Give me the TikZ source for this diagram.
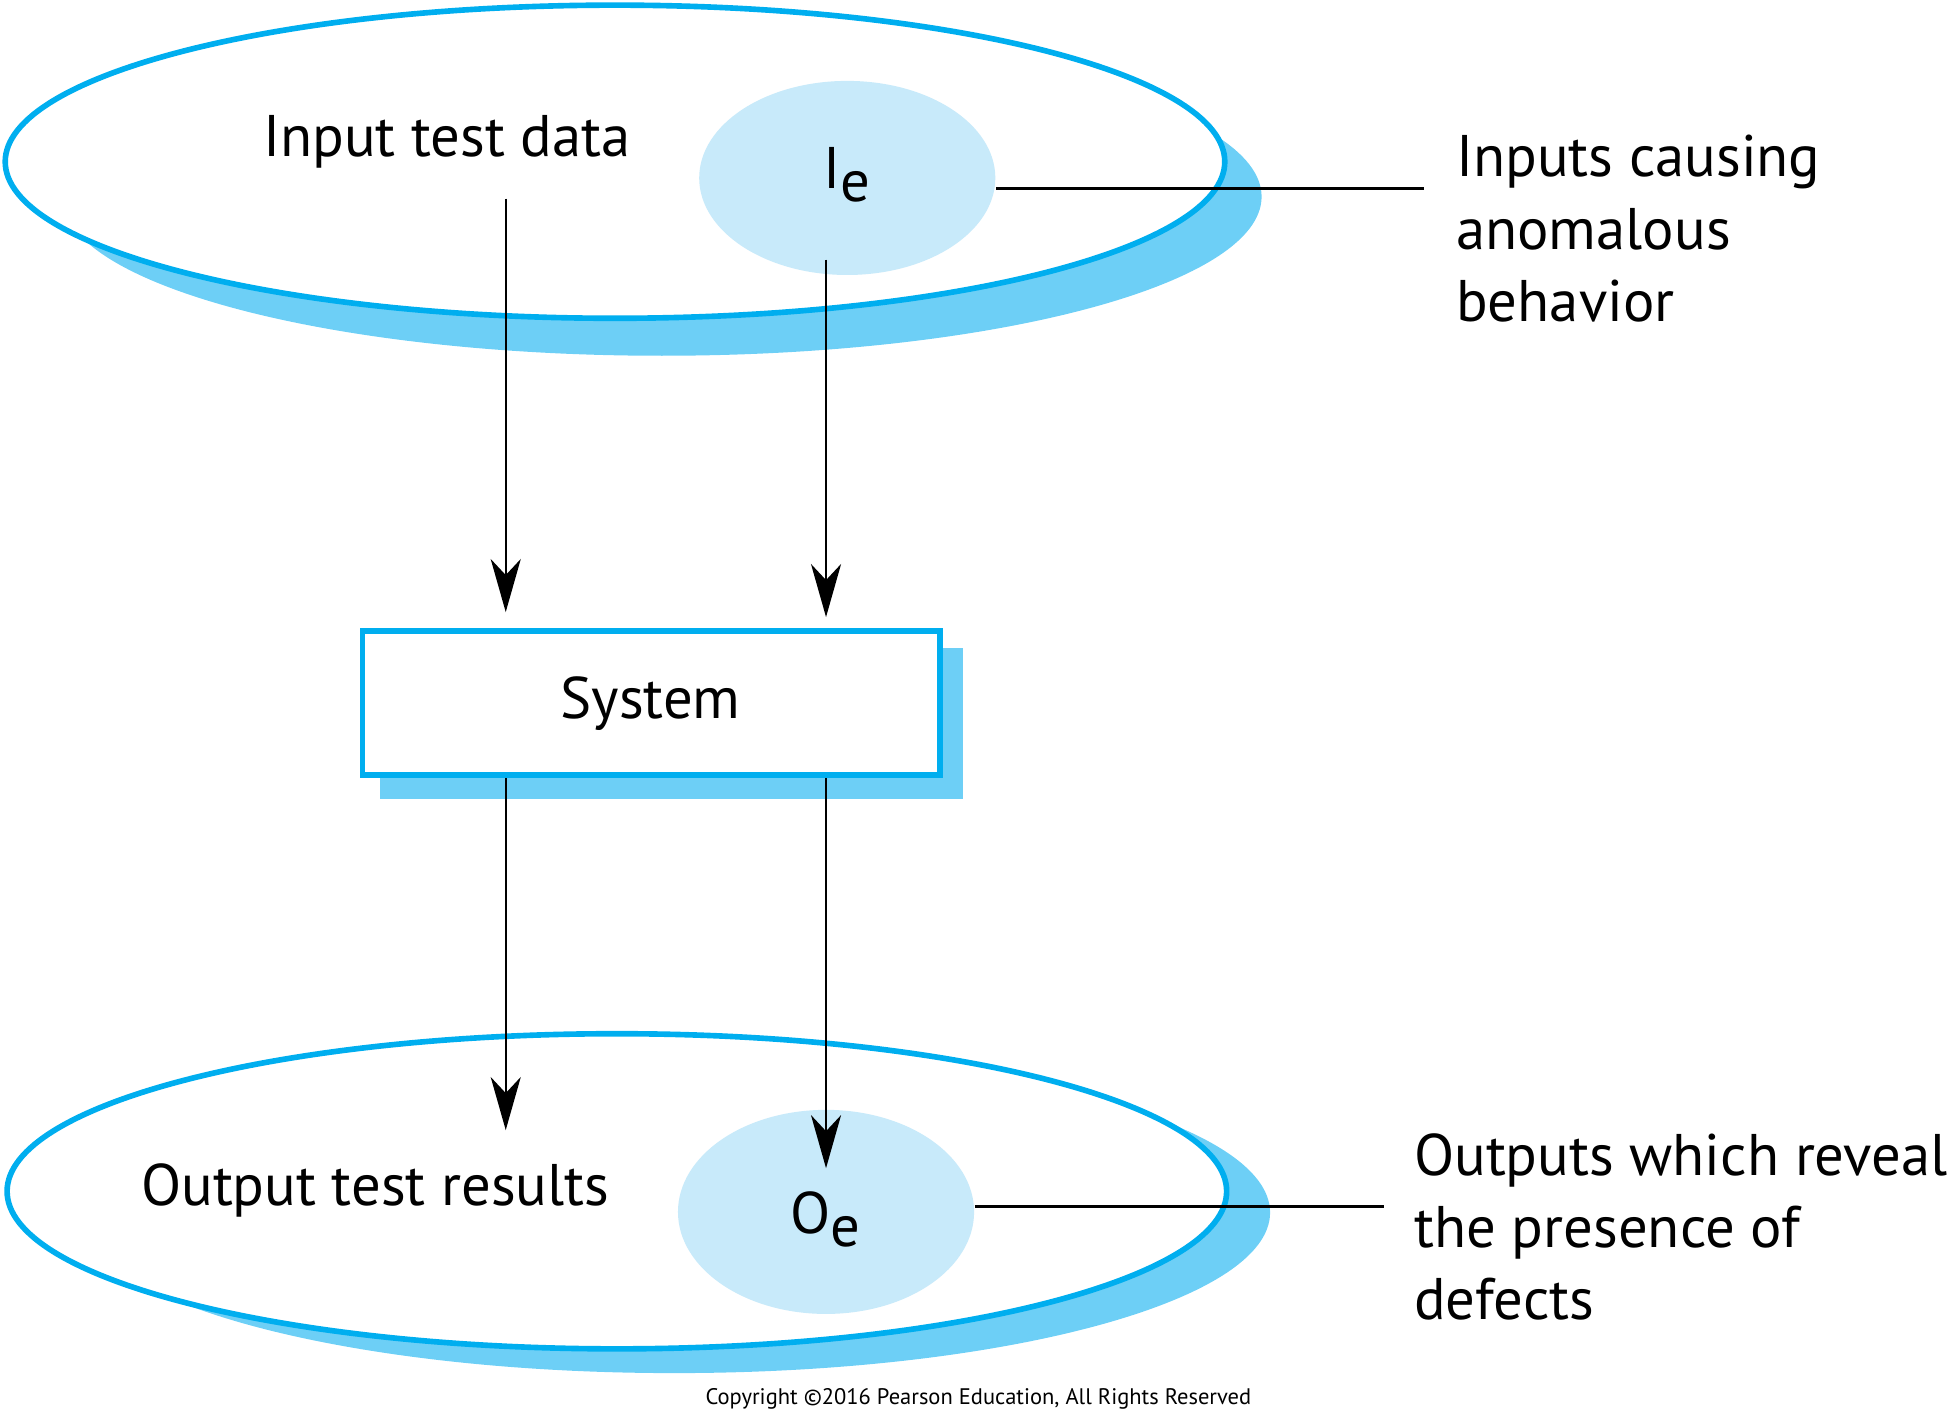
\documentclass[tikz,border=0pt]{standalone}
\usepackage{fontspec}
\setmainfont{PT Sans}
\usetikzlibrary{shapes.geometric, arrows.meta, positioning, calc}
\definecolor{ringblue}{HTML}{00AEEF}
\definecolor{shadeblue}{HTML}{6DCFF6}
\definecolor{paleblue}{HTML}{C8EAFA}

\tikzset{
    ring/.style={ellipse, draw=ringblue, line width=1.6pt, fill=white, inner sep=0pt},
    ringshadow/.style={ellipse, fill=shadeblue, inner sep=0pt},
    spot/.style={ellipse, fill=paleblue, inner sep=0pt},
    sysbox/.style={rectangle, draw=ringblue, line width=1.6pt, fill=white, inner sep=0pt,
        minimum width=5.775cm, minimum height=1.442cm},
    sysshadow/.style={rectangle, fill=shadeblue, inner sep=0pt,
        minimum width=5.83cm, minimum height=1.51cm},
    flow/.style={-{Stealth[length=5.3mm, width=3mm, inset=1.6mm]}, line width=0.7pt},
    lead/.style={line width=0.85pt},
    lbl/.style={font=\fontsize{16.7}{20.6}\selectfont, inner sep=0pt},
    note/.style={lbl, align=left}
}

\begin{document}
\begin{tikzpicture}[x=0.012487cm, y=-0.012487cm]
    \useasboundingbox (0,0) rectangle (1568,1142.8);

    % Input side
    \node[ringshadow, minimum width=11.99cm, minimum height=3.18cm] (inshadow) at (530,157.5) {};
    \node[ring, minimum width=12.19cm, minimum height=3.13cm] (inset) at (492.5,129.5) {};
    \node[spot, minimum width=2.96cm, minimum height=1.94cm] (Ie) at (678.5,142.5) {};
    \node[lbl, anchor=base] (intext) at (358,125.6) {Input test data};
    \node[lbl, anchor=base] (ietext) at (678,151) {I\raisebox{-3.8pt}{e}};

    % System
    \node[sysshadow] (sysshadow) at (537.5,579.5) {};
    \node[sysbox] (sys) at (521.5,563) {};
    \node[lbl, anchor=base] (systext) at (521,575) {System};

    % Output side
    \node[ringshadow, minimum width=11.91cm, minimum height=3.21cm] (outshadow) at (540,971) {};
    \node[ring, minimum width=12.19cm, minimum height=3.15cm] (outset) at (494,954) {};
    \node[spot, minimum width=2.96cm, minimum height=2.04cm] (Oe) at (661.5,970.5) {};
    \node[lbl, anchor=base] (outtext) at (300.5,965) {Output test results};
    \node[lbl, anchor=base] (oetext) at (661,987.6) {O\raisebox{-3.8pt}{e}};

    % Arrow ends
    \coordinate (inL) at (405,159);
    \coordinate (inR) at (661.5,208);
    \coordinate (outL) at (405,905);
    \coordinate (outR) at (661.5,935.5);

    % Flows through the system
    \draw[flow, shorten >=1.6mm] (inL) -- (inL |- sys.north);
    \draw[flow, shorten >=1.1mm] (inR) -- (inR |- sys.north);
    \draw[flow] (inL |- sys.south) -- (outL);
    \draw[flow] (inR |- sys.south) -- (outR);

    % Labels on the right (base = last line)
    \coordinate (ieend) at (1140,151);
    \coordinate (oeend) at (1108,966);
    \draw[lead] (Ie.east |- ieend) -- (ieend);
    \draw[lead] (Oe.east |- oeend) -- (oeend);
    \node[note, anchor=base west] (ienote) at (1165.6,257.5) {Inputs causing\\anomalous\\behavior};
    \node[note, anchor=base west] (oenote) at (1132,1057) {Outputs which reveal\\the presence of\\defects};

    \node[font=\fontsize{6.4}{7}\selectfont, inner sep=0pt, anchor=base] (copy) at (783.5,1125)
        {Copyright \textcopyright2016 Pearson Education, All Rights Reserved};
\end{tikzpicture}
\end{document}
